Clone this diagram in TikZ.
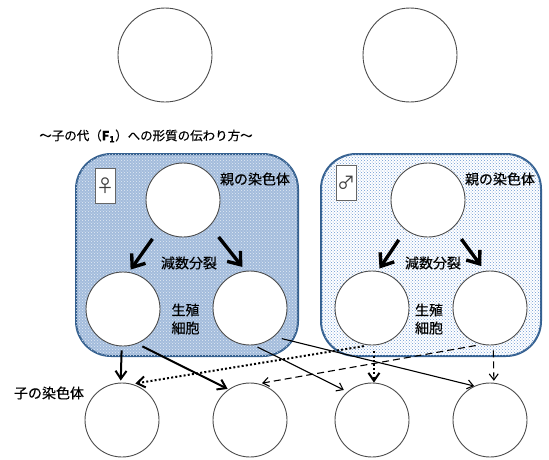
\documentclass[tikz,border=0pt]{standalone}
\usepackage{fontspec}
\setmainfont{Noto Sans CJK JP}
\usetikzlibrary{patterns,arrows.meta}
\definecolor{femaleblue}{HTML}{A3BCDC}
\definecolor{maledot}{HTML}{6E9AD2}
\definecolor{boxedge}{HTML}{35608F}
\tikzset{
    cell/.style={draw=black!70, fill=white, circle, minimum size=74pt, inner sep=0pt, line width=0.9pt},
    bigcell/.style={cell, minimum size=94pt},
    femalebox/.style={draw=boxedge, line width=2pt, rounded corners=35pt, fill=femaleblue},
    malebox/.style={draw=boxedge, line width=2pt, rounded corners=35pt, fill=white},
    sexbox/.style={draw=black!60, fill=white, minimum width=20pt, minimum height=35pt, inner sep=0pt, font=\fontsize{18}{18}\selectfont, text=black!75},
    label/.style={font=\fontsize{14}{18}\selectfont\addfontfeature{FakeBold=0.35}, align=center, inner sep=0pt},
    split/.style={line width=3.4pt, -{Straight Barb[length=11pt,width=17pt]}},
    heavy/.style={line width=2pt, -{Straight Barb[length=8pt,width=11pt]}},
    light/.style={line width=1.1pt, -{Straight Barb[length=6pt,width=9pt]}},
    dots/.style={dash pattern=on 2pt off 2.2pt},
    dashes/.style={dash pattern=on 7pt off 4pt}
}
\begin{document}
\begin{tikzpicture}[x=1pt, y=-1pt]
    \useasboundingbox (0,0) rectangle (549,459);
    % parents
    \node[bigcell] (topf) at (165,55) {};
    \node[bigcell] (topm) at (410,55) {};
    \node[label, font=\fontsize{12.5}{14}\selectfont\addfontfeature{FakeBold=0.3}] (title) at (146,136) {～子の代（\textbf{F\textsubscript{1}}）への形質の伝わり方～};
    % boxes
    \draw[femalebox, postaction={pattern=crosshatch dots, pattern color=white!70!femaleblue}] (76,154) rectangle (298,356);
    \draw[malebox, postaction={pattern=crosshatch dots, pattern color=maledot}] (321,154) rectangle (541,356);
    \node[sexbox] (signf) at (105,186) {♀};
    \node[sexbox] (signm) at (346,183) {♂};
    % female side
    \node[cell] (fparent) at (183,200) {};
    \node[cell] (fgamL) at (123,309) {};
    \node[cell] (fgamR) at (250,308) {};
    \node[label] (fpar) at (255,179) {親の染色体};
    \node[label] (fmei) at (189,263) {減数分裂};
    \node[label] (fsei) at (185.5,319) {生殖\\細胞};
    % male side
    \node[cell] (mparent) at (428,200) {};
    \node[cell] (mgamL) at (372,308) {};
    \node[cell] (mgamR) at (490,308) {};
    \node[label] (mpar) at (500,179) {親の染色体};
    \node[label] (mmei) at (433,263) {減数分裂};
    \node[label] (msei) at (429,319) {生殖\\細胞};
    % children
    \node[cell] (childA) at (122,420) {};
    \node[cell] (childB) at (250,420) {};
    \node[cell] (childC) at (372,420) {};
    \node[cell] (childD) at (490,420) {};
    \node[label] (kid) at (49,393) {子の染色体};
    % meiosis
    \draw[split, shorten <=12pt, shorten >=3pt] (fparent.231) -- (fgamL.81);
    \draw[split, shorten <=14pt, shorten >=5pt] (fparent.-44) -- (fgamR.97);
    \draw[split, shorten <=12pt, shorten >=3pt] (mparent.233) -- (mgamL.81);
    \draw[split, shorten <=14pt, shorten >=6pt] (mparent.-48) -- (mgamR.98);
    % to the children
    \draw[heavy, shorten <=4pt, shorten >=2pt] (fgamL.-92) -- (childA.92);
    \draw[heavy, shorten <=6pt, shorten >=1pt] (fgamL.-68) -- (childB.125);
    \draw[light, shorten <=4pt, shorten >=4pt] (fgamR.-84) -- (childC.131);
    \draw[light, shorten <=8pt] (fgamR.-50) -- (childD.115);
    \draw[heavy, dots, shorten <=5pt, shorten >=3pt] (mgamL.-95) -- (childA.74);
    \draw[light, dashes, shorten <=6pt, shorten >=3pt] (mgamR.-103) -- (childB.76);
    \draw[heavy, dots, shorten <=6pt] (mgamL.-87) -- (childC.87);
    \draw[light, dashes, shorten <=5pt, shorten >=2pt] (mgamR.-85) -- (childD.84);
\end{tikzpicture}
\end{document}
